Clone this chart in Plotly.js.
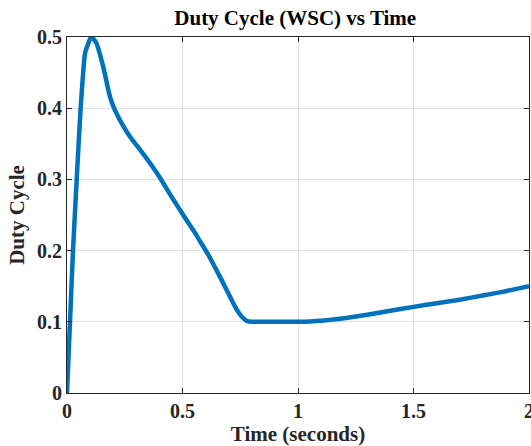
<!DOCTYPE html>
<html><head><meta charset="utf-8">
<script src="https://cdn.plot.ly/plotly-3.0.1.min.js"></script>
<style>html,body{margin:0;padding:0;background:#fff}#chart{width:531px;height:446px}</style>
</head><body><div id="chart"></div>
<script>
const timeSec = [0, 0.013, 0.026, 0.042, 0.059, 0.078, 0.09, 0.104, 0.115, 0.128, 0.157, 0.186, 0.208, 0.24, 0.273, 0.32, 0.359, 0.403, 0.45, 0.503, 0.55, 0.58, 0.61, 0.64, 0.675, 0.706, 0.735, 0.76, 0.78, 0.8, 0.9, 1.0, 1.1, 1.2, 1.3, 1.4, 1.5, 1.6, 1.7, 1.8, 1.9, 2.0];
const dutyCycle = [0, 0.1, 0.2, 0.3, 0.4, 0.477, 0.489, 0.5, 0.497, 0.491, 0.458, 0.416, 0.397, 0.377, 0.360, 0.340, 0.323, 0.302, 0.277, 0.25, 0.227, 0.211, 0.195, 0.177, 0.155, 0.135, 0.117, 0.106, 0.101, 0.1, 0.1, 0.1, 0.1015, 0.105, 0.11, 0.1155, 0.121, 0.126, 0.131, 0.137, 0.143, 0.15];
const xTicks = [0, 0.5, 1, 1.5, 2];
const xTickText = ['0', '0.5', '1', '1.5', '2'];
const yTicks = [0, 0.1, 0.2, 0.3, 0.4, 0.5];
const yTickText = ['0', '0.1', '0.2', '0.3', '0.4', '0.5'];

const serif = '"Liberation Serif", "Times New Roman", serif';
const axisCommon = {
  showline: true, linecolor: '#262626', linewidth: 1, mirror: 'ticks',
  ticks: 'inside', ticklen: 5, tickcolor: '#262626',
  showgrid: true, gridcolor: '#dfdfdf', gridwidth: 1, zeroline: false,
  ticklabeloverflow: 'allow',
  tickfont: {family: serif, size: 20, color: '#262626', weight: 'bold'}
};
const layout = {
  width: 531, height: 446,
  margin: {l: 67, r: 2, t: 37, b: 53},
  paper_bgcolor: '#fff', plot_bgcolor: '#fff',
  showlegend: false,
  title: {text: '<b>Duty Cycle (WSC) vs Time</b>', x: 0.556, xanchor: 'center', y: 0.96, yanchor: 'middle',
          font: {family: serif, size: 21, color: '#000'}},
  xaxis: Object.assign({}, axisCommon, {
    range: [0, 2], tickvals: xTicks, ticktext: xTickText,
    title: {text: '<b>Time (seconds)</b>', standoff: 4, font: {family: serif, size: 21, color: '#262626'}}
  }),
  yaxis: Object.assign({}, axisCommon, {
    range: [0, 0.5], tickvals: yTicks, ticktext: yTickText,
    title: {text: '<b>Duty Cycle</b>', standoff: 6, font: {family: serif, size: 21, color: '#262626'}}
  })
};
const data = [{
  x: timeSec, y: dutyCycle, type: 'scatter', mode: 'lines',
  line: {color: '#0072BD', width: 4.5, shape: 'spline', smoothing: 0.5}, cliponaxis: false
}];
Plotly.newPlot('chart', data, layout, {displayModeBar: false, staticPlot: true});
</script></body></html>
